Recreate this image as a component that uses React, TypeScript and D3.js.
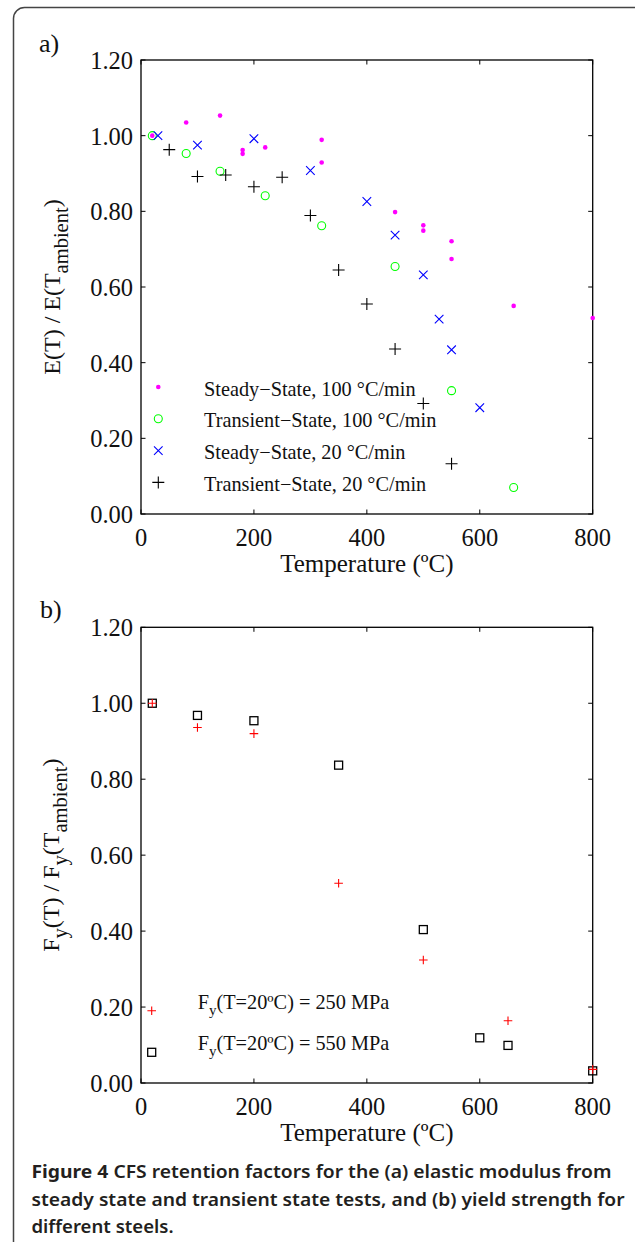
import React from "react";
import * as d3 from "d3";

// ---------- data ----------
const xTicks = [0, 200, 400, 600, 800];
const yTicks = [0, 0.2, 0.4, 0.6, 0.8, 1.0, 1.2];

// panel a) elastic modulus retention
const ssT100 = [20, 80, 140, 180, 180, 220, 320, 320, 450, 500, 500, 550, 550, 660, 800];
const ssE100 = [1.0, 1.035, 1.053, 0.962, 0.952, 0.969, 0.989, 0.929, 0.798, 0.763, 0.749, 0.721, 0.674, 0.55, 0.518];

const tsT100 = [20, 80, 140, 220, 320, 450, 550, 660];
const tsE100 = [1.0, 0.953, 0.906, 0.841, 0.762, 0.654, 0.326, 0.07];

const ssT20 = [30, 100, 200, 300, 400, 450, 500, 528, 550, 600];
const ssE20 = [1.0, 0.975, 0.992, 0.908, 0.826, 0.737, 0.632, 0.515, 0.434, 0.281];

const tsT20 = [50, 100, 150, 200, 250, 300, 350, 400, 450, 500, 550];
const tsE20 = [0.963, 0.892, 0.896, 0.865, 0.89, 0.789, 0.645, 0.555, 0.436, 0.292, 0.133];

const legendA = [
  "Steady\u2212State, 100 \u00B0C/min",
  "Transient\u2212State, 100 \u00B0C/min",
  "Steady\u2212State, 20 \u00B0C/min",
  "Transient\u2212State, 20 \u00B0C/min",
];

// panel b) yield strength retention
const fy250T = [20, 100, 200, 350, 500, 650, 800];
const fy250 = [1.0, 0.936, 0.92, 0.526, 0.324, 0.164, 0.036];
const fy550T = [20, 100, 200, 350, 500, 600, 650, 800];
const fy550 = [1.0, 0.968, 0.954, 0.837, 0.404, 0.119, 0.099, 0.032];

const legendB = ["250 MPa", "550 MPa"];

const captionBold = "Figure 4";
const captionLines = [
  " CFS retention factors for the (a) elastic modulus from",
  "steady state and transient state tests, and (b) yield strength for",
  "different steels.",
];

// ---------- layout ----------
const W = 635;
const H = 1242;
const SERIF = "'Liberation Serif', 'Times New Roman', serif";
const SANS = "'Noto Sans', 'Open Sans', sans-serif";

const x = d3.scaleLinear().domain([0, 800]).range([141, 592.7]);
const yA = d3.scaleLinear().domain([0, 1.2]).range([514, 60]);
const yB = d3.scaleLinear().domain([0, 1.2]).range([1083, 627.3]);

const fmt = d3.format(".2f");

function Dot({ cx, cy }: { cx: number; cy: number }) {
  return <circle cx={cx} cy={cy} r={2.3} fill="#ff00ff" />;
}
function Ring({ cx, cy }: { cx: number; cy: number }) {
  return <circle cx={cx} cy={cy} r={4} fill="none" stroke="#00ff00" strokeWidth={1.1} />;
}
function Cross({ cx, cy, s = 4.3, color = "#0000ff" }: { cx: number; cy: number; s?: number; color?: string }) {
  return (
    <path
      d={`M${cx - s},${cy - s}L${cx + s},${cy + s}M${cx - s},${cy + s}L${cx + s},${cy - s}`}
      stroke={color}
      strokeWidth={1.1}
      fill="none"
    />
  );
}
function Plus({ cx, cy, s = 6, color = "#000" }: { cx: number; cy: number; s?: number; color?: string }) {
  return (
    <path
      d={`M${cx - s},${cy}L${cx + s},${cy}M${cx},${cy - s}L${cx},${cy + s}`}
      stroke={color}
      strokeWidth={1.1}
      fill="none"
    />
  );
}
function Square({ cx, cy, s = 4 }: { cx: number; cy: number; s?: number }) {
  return <rect x={cx - s} y={cy - s} width={2 * s} height={2 * s} fill="none" stroke="#000" strokeWidth={1.3} />;
}

function Axes({ y }: { y: d3.ScaleLinear<number, number> }) {
  const [x0, x1] = x.range();
  const [y0, y1] = y.range(); // y0 bottom, y1 top
  const tl = 4.5;
  return (
    <g>
      <rect x={x0} y={y1} width={x1 - x0} height={y0 - y1} fill="none" stroke="#000" strokeWidth={1.3} />
      {xTicks.map((t) => (
        <g key={"x" + t}>
          <line x1={x(t)} x2={x(t)} y1={y0} y2={y0 - tl} stroke="#000" strokeWidth={1} />
          <line x1={x(t)} x2={x(t)} y1={y1} y2={y1 + tl} stroke="#000" strokeWidth={1} />
          <text x={x(t)} y={y0 + 31.5} textAnchor="middle" fontFamily={SERIF} fontSize={24.5} fill="#111">
            {t}
          </text>
        </g>
      ))}
      {yTicks.map((t) => (
        <g key={"y" + t}>
          <line x1={x0} x2={x0 + tl} y1={y(t)} y2={y(t)} stroke="#000" strokeWidth={1} />
          <line x1={x1} x2={x1 - tl} y1={y(t)} y2={y(t)} stroke="#000" strokeWidth={1} />
          <text x={133} y={y(t) + 9} textAnchor="end" fontFamily={SERIF} fontSize={24.5} fill="#111">
            {fmt(t)}
          </text>
        </g>
      ))}
      <text
        x={(x0 + x1) / 2}
        y={y0 + 57.5}
        textAnchor="middle"
        fontFamily={SERIF}
        fontSize={25}
        fill="#111"
      >
        Temperature (ºC)
      </text>
    </g>
  );
}

export default function App() {
  const midA = (yA.range()[0] + yA.range()[1]) / 2;
  const midB = (yB.range()[0] + yB.range()[1]) / 2;
  const legX = 158.3;
  const legTX = 204;
  const legY0 = 387;
  const legDY = 31.8;
  const SUB = 20.5;
  const DY = 8;
  return (
    <svg
      width={W}
      height={H}
      viewBox={`0 0 ${W} ${H}`}
      style={{ position: "absolute", left: 0, top: 0, background: "#fff" }}
    >
      <rect x={0} y={0} width={W} height={H} fill="#fff" />
      {/* outer frame */}
      <rect x={13.5} y={7.5} width={650} height={1270} rx={11} ry={11} fill="none" stroke="#444" strokeWidth={1.5} />

      {/* panel labels */}
      <text x={39} y={51.5} fontFamily={SERIF} fontSize={26} fill="#111">a)</text>
      <text x={40} y={618} fontFamily={SERIF} fontSize={26} fill="#111">b)</text>

      {/* ---------- panel a ---------- */}
      <Axes y={yA} />
      <text
        transform={`translate(60,${midA}) rotate(-90)`}
        textAnchor="middle"
        fontFamily={SERIF}
        fontSize={24}
        fill="#111"
      >
        <tspan>E(T) / E(T</tspan>
        <tspan fontSize={SUB} dy={DY}>ambient</tspan>
        <tspan dy={-DY}>)</tspan>
      </text>

      {ssT100.map((t, i) => (
        <Dot key={"a" + i} cx={x(t)} cy={yA(ssE100[i])} />
      ))}
      {tsT100.map((t, i) => (
        <Ring key={"b" + i} cx={x(t)} cy={yA(tsE100[i])} />
      ))}
      {ssT20.map((t, i) => (
        <Cross key={"c" + i} cx={x(t)} cy={yA(ssE20[i])} />
      ))}
      {tsT20.map((t, i) => (
        <Plus key={"d" + i} cx={x(t)} cy={yA(tsE20[i])} />
      ))}

      {/* legend a */}
      <Dot cx={legX} cy={legY0} />
      <Ring cx={legX} cy={legY0 + legDY} />
      <Cross cx={legX} cy={legY0 + 2 * legDY} />
      <Plus cx={legX} cy={legY0 + 3 * legDY} />
      {legendA.map((s, i) => (
        <text key={s} x={legTX} y={legY0 + i * legDY + 8.6} fontFamily={SERIF} fontSize={20.3} fill="#111">
          {s}
        </text>
      ))}

      {/* ---------- panel b ---------- */}
      <Axes y={yB} />
      <text
        transform={`translate(59,${midB}) rotate(-90)`}
        textAnchor="middle"
        fontFamily={SERIF}
        fontSize={24}
        fill="#111"
      >
        <tspan>F</tspan>
        <tspan fontSize={SUB} dy={DY}>y</tspan>
        <tspan dy={-DY}>(T) / F</tspan>
        <tspan fontSize={SUB} dy={DY}>y</tspan>
        <tspan dy={-DY}>(T</tspan>
        <tspan fontSize={SUB} dy={DY}>ambient</tspan>
        <tspan dy={-DY}>)</tspan>
      </text>

      {fy550T.map((t, i) => (
        <Square key={"s" + i} cx={x(t)} cy={yB(fy550[i])} />
      ))}
      {fy250T.map((t, i) => (
        <Plus key={"p" + i} cx={x(t)} cy={yB(fy250[i])} s={4.3} color="#ff0000" />
      ))}

      {/* legend b */}
      <Plus cx={151.7} cy={1010.7} s={4.3} color="#ff0000" />
      <Square cx={151.7} cy={1052.3} />
      {legendB.map((s, i) => (
        <text key={s} x={197.7} y={1009 + i * 41} fontFamily={SERIF} fontSize={20.3} fill="#111">
          <tspan>F</tspan>
          <tspan fontSize={15} dy={6}>y</tspan>
          <tspan dy={-6}>{`(T=20ºC) = ${s}`}</tspan>
        </text>
      ))}

      {/* caption */}
      <text
        x={31.5}
        y={1178}
        fontFamily={SANS}
        fontSize={17}
        fontWeight="bold"
        fill="#231f20"
        textLength={580}
        lengthAdjust="spacingAndGlyphs"
      >
        <tspan>{captionBold}</tspan>
        <tspan fontWeight="600">{captionLines[0]}</tspan>
      </text>
      <text
        x={31.5}
        y={1205.5}
        fontFamily={SANS}
        fontSize={17}
        fontWeight="600"
        fill="#231f20"
        textLength={593}
        lengthAdjust="spacingAndGlyphs"
      >
        {captionLines[1]}
      </text>
      <text
        x={31.5}
        y={1233}
        fontFamily={SANS}
        fontSize={17}
        fontWeight="600"
        fill="#231f20"
        textLength={142}
        lengthAdjust="spacingAndGlyphs"
      >
        {captionLines[2]}
      </text>
    </svg>
  );
}
